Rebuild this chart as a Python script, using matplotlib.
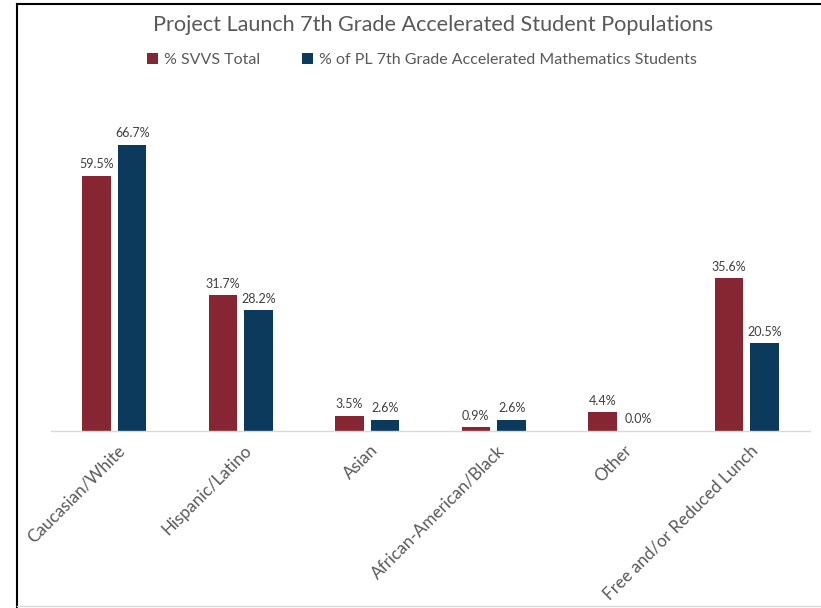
import matplotlib
matplotlib.use("Agg")
import matplotlib.pyplot as plt
from matplotlib.lines import Line2D
from matplotlib.patches import Patch
import matplotlib.transforms as mtransforms
import numpy as np

categories = ["Caucasian/White", "Hispanic/Latino", "Asian",
              "African-American/Black", "Other", "Free and/or Reduced Lunch"]
svvs_total = [59.5, 31.7, 3.5, 0.9, 4.4, 35.6]
pl_accel = [66.7, 28.2, 2.6, 2.6, 0.0, 20.5]
series_names = ["% SVVS Total", "% of PL 7th Grade Accelerated Mathematics Students"]

RED = "#862633"
BLUE = "#0C3A5C"
TEXT = "#595959"
LABEL = "#404040"

plt.rcParams["font.family"] = ["Lato", "DejaVu Sans"]

fig = plt.figure(figsize=(8.21, 6.08), dpi=100)
ax = fig.add_axes([0.0621, 0.2911, 0.9245, 0.5642])

x = np.arange(len(categories))
w = 0.225
off = 0.142
b1 = ax.bar(x - off, svvs_total, w, color=RED)
b2 = ax.bar(x + off, pl_accel, w, color=BLUE)

for bars, vals in ((b1, svvs_total), (b2, pl_accel)):
    for rect, v in zip(bars, vals):
        ax.annotate(f"{v:.1f}%", (rect.get_x() + rect.get_width() / 2, v),
                    xytext=(0, 4), textcoords="offset points",
                    ha="center", va="bottom", fontsize=9, color=LABEL)

ax.set_xlim(-0.5, len(categories) - 0.5)
ax.set_ylim(0, 80)
for s in ("top", "right", "left"):
    ax.spines[s].set_visible(False)
ax.spines["bottom"].set_color("#D9D9D9")
ax.spines["bottom"].set_linewidth(1.0)
ax.set_yticks([])
ax.set_xticks(x)
ax.set_xticklabels(categories, rotation=45, ha="right", rotation_mode="anchor",
                   fontsize=12.3, color=TEXT)
ax.tick_params(axis="x", length=0, pad=8)
shift = mtransforms.ScaledTranslation(3 / 100, 0, fig.dpi_scale_trans)
for lbl in ax.get_xticklabels():
    lbl.set_transform(lbl.get_transform() + shift)

fig.text(0.528, 0.959, "Project Launch 7th Grade Accelerated Student Populations",
         ha="center", va="center", fontsize=15.6, color=TEXT)

handles = [Patch(facecolor=RED), Patch(facecolor=BLUE)]
leg = fig.legend(handles, series_names, loc="center", bbox_to_anchor=(0.514, 0.901),
                 ncol=2, frameon=False, fontsize=11.5, handlelength=0.7,
                 handleheight=0.7, handletextpad=0.4, columnspacing=2.6)
for t in leg.get_texts():
    t.set_color(TEXT)

# frame edges around the chart area
fig.add_artist(Line2D([17 / 821, 17 / 821], [0, 1 - 4 / 608], color="black", lw=1.5))
fig.add_artist(Line2D([17 / 821, 1], [1 - 4 / 608, 1 - 4 / 608], color="black", lw=1.5))
fig.add_artist(Line2D([17 / 821, 1], [2 / 608, 2 / 608], color="#D9D9D9", lw=1.0))

fig.savefig("out.png", dpi=100)
